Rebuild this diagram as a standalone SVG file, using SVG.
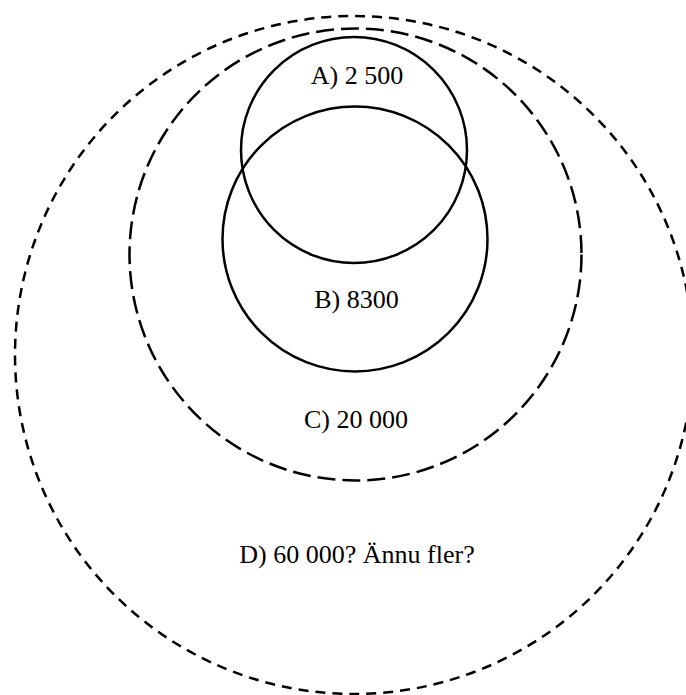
<svg xmlns="http://www.w3.org/2000/svg" width="686" height="695" viewBox="0 0 686 695">
<style>
.c{fill:none;stroke:#000;stroke-width:2.5}
.dl{stroke-dasharray:18 7}
.ds{stroke-dasharray:10 7}
.t{font-family:"Liberation Serif","Times New Roman",serif;font-size:26px;fill:#000;text-anchor:middle}
</style>
<rect width="686" height="695" fill="#fff"/>
<g id="D"><circle class="c ds" cx="354" cy="355" r="339"/><text class="t" x="357" y="563">D) 60 000? Ännu fler?</text></g>
<g id="C"><circle class="c dl" cx="355.5" cy="254.5" r="226"/><text class="t" x="356" y="428">C) 20 000</text></g>
<g id="B"><circle class="c" cx="355" cy="239" r="132.5"/><text class="t" x="356.5" y="308">B) 8300</text></g>
<g id="A"><circle class="c" cx="354" cy="150" r="113"/><text class="t" x="357" y="84">A) 2 500</text></g>
<g id="connectors"></g>
</svg>
